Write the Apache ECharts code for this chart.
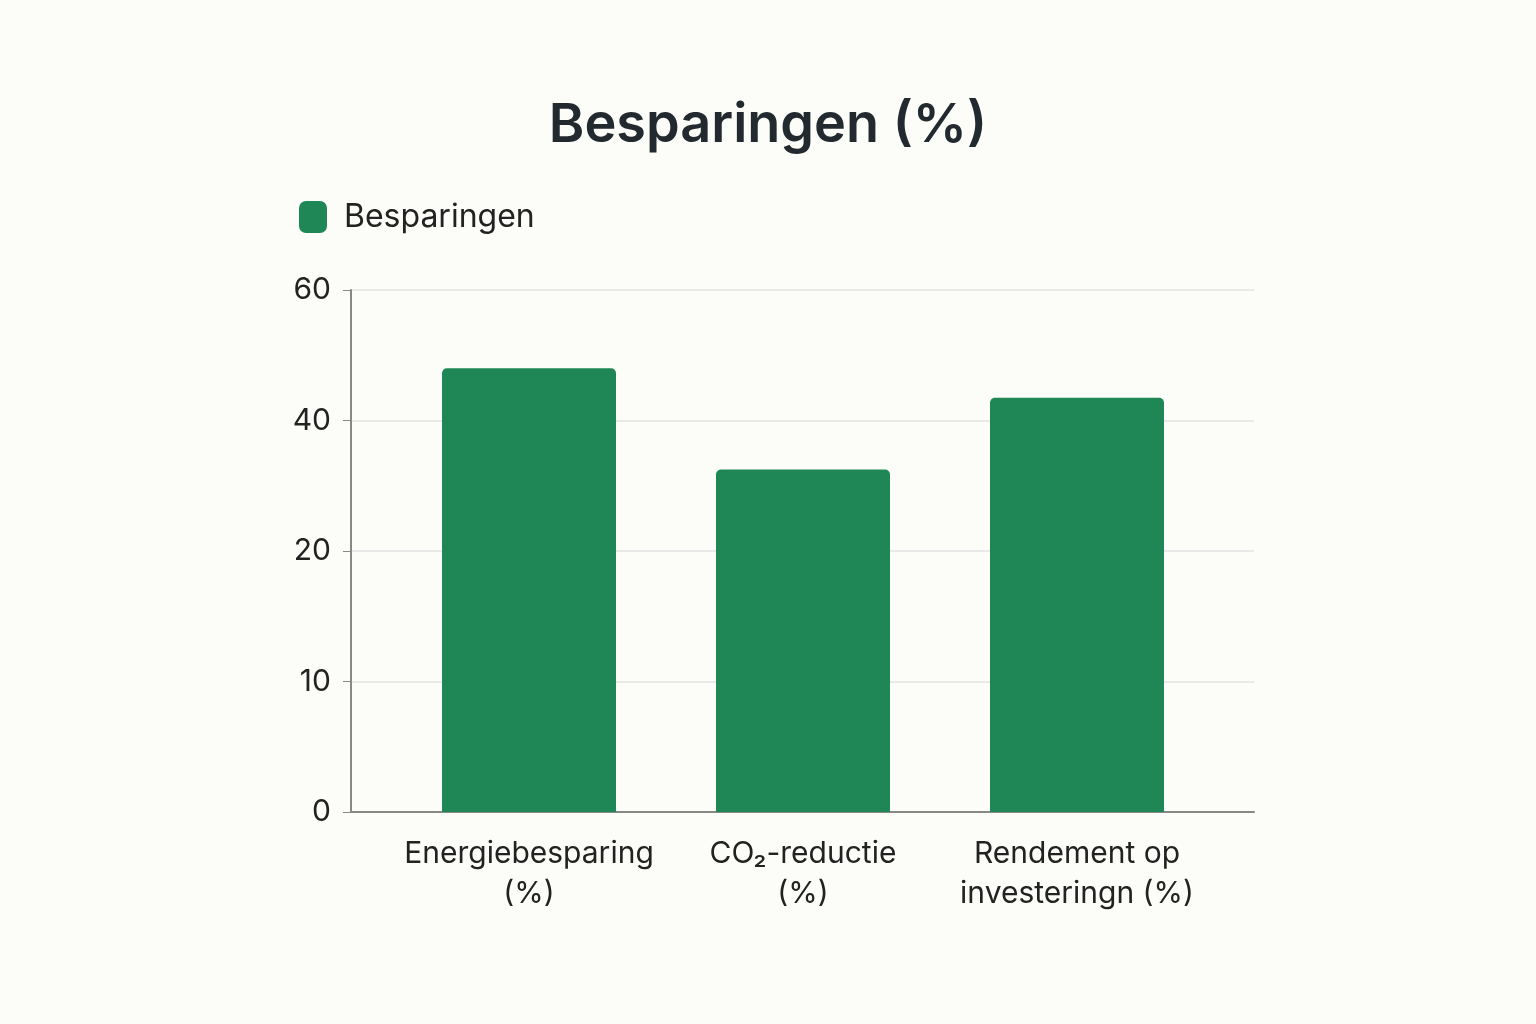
<!DOCTYPE html>
<html><head><meta charset="utf-8">
<script src="https://cdn.jsdelivr.net/npm/echarts@6/dist/echarts.min.js"></script>
<style>html,body{margin:0;background:#fcfcf8}#c{width:1536px;height:1024px}</style>
</head><body><div id="c"></div>
<script>
const categories = ['Energiebesparing\n(%)', 'CO₂-reductie\n(%)', 'Rendement op\ninvesteringn (%)'];
const values = [48, 32.5, 43.5];
const tickLabels = [0, 10, 20, 40, 60];
// the reference axis spaces its ticks evenly; map a value onto that tick scale
function toPos(v){
  for(let i=0;i<tickLabels.length-1;i++){
    if(v<=tickLabels[i+1]) return i+(v-tickLabels[i])/(tickLabels[i+1]-tickLabels[i]);
  }
  return tickLabels.length-1;
}
const font='Inter';
const chart = echarts.init(document.getElementById('c'));
chart.setOption({
  backgroundColor:'#fcfcf8',
  title:{text:'Besparingen (%)',left:'center',top:94,textStyle:{fontFamily:font,fontSize:54,fontWeight:600,color:'#222a30'}},
  legend:{left:294,top:196,itemWidth:28,itemHeight:32,icon:'roundRect',data:['Besparingen'],
    textStyle:{fontFamily:font,fontSize:32,color:'#222',padding:[0,0,0,12]}},
  grid:[{left:351,right:282,top:290,bottom:212},{left:392,right:322,top:290,bottom:212}],
  xAxis:[
    {type:'category',gridIndex:0,data:categories,axisLine:{lineStyle:{color:'#888',width:2}},axisTick:{show:false},axisLabel:{show:false}},
    {type:'category',gridIndex:1,data:categories,axisLine:{show:false},axisTick:{show:false},
      axisLabel:{interval:0,fontFamily:font,fontSize:30,color:'#222',lineHeight:40,margin:22}}
  ],
  yAxis:[
    {type:'value',gridIndex:0,min:0,max:tickLabels.length-1,interval:1,
      axisLine:{show:true,lineStyle:{color:'#888',width:2}},axisTick:{show:true,length:8,lineStyle:{color:'#888'}},
      splitLine:{lineStyle:{color:'#e2e4e6',width:1.5}},
      axisLabel:{fontFamily:font,fontSize:30,color:'#222',margin:20,formatter:v=>tickLabels[v]}},
    {type:'value',gridIndex:1,min:0,max:tickLabels.length-1,interval:1,show:false}
  ],
  series:[{name:'Besparingen',type:'bar',xAxisIndex:1,yAxisIndex:1,barWidth:174,data:values.map(toPos),
    itemStyle:{color:'#1e8755',borderRadius:[5,5,0,0]}}]
});
</script></body></html>
